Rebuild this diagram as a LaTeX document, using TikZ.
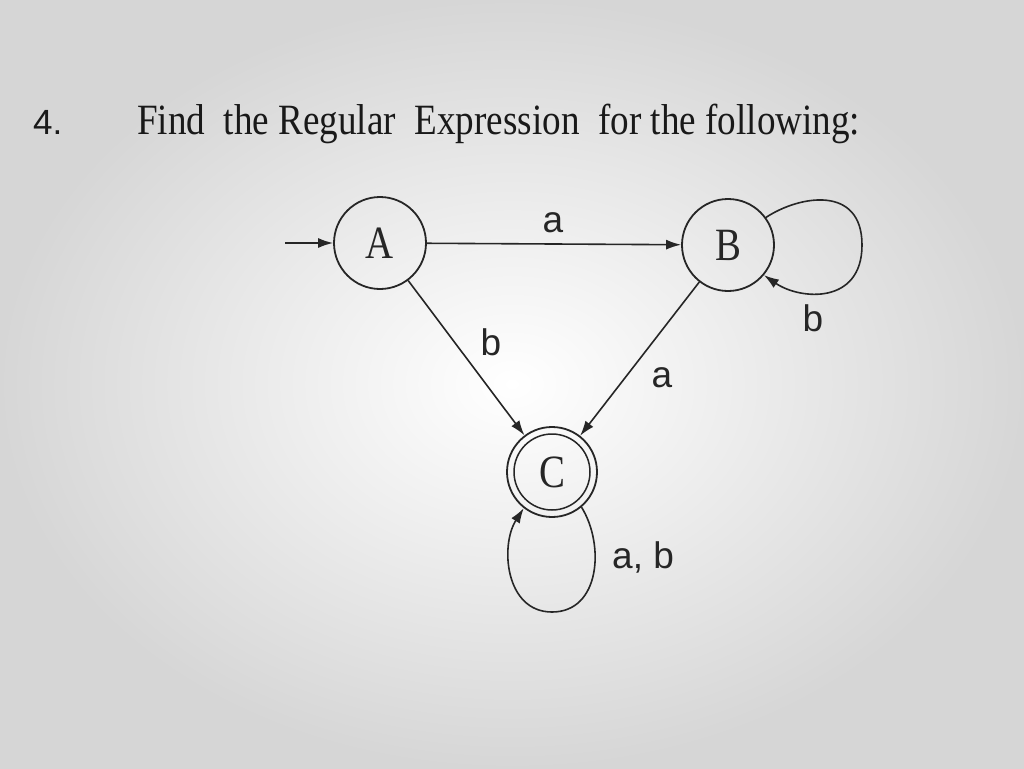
\documentclass[tikz,border=0pt]{standalone}
\usepackage{fontspec}
\setmainfont{Liberation Serif}
\newfontfamily\lsans{Liberation Sans}
\usetikzlibrary{arrows.meta}
\newcommand\statelabel[1]{\scalebox{1.05}[1.25]{\fontsize{37}{40}\selectfont #1}}
\begin{document}
\begin{tikzpicture}[x=1pt,y=-1pt,
 state/.style={circle, draw=black!85, line width=1.8pt, minimum size=92pt, inner sep=0pt, text=black!85},
 edge/.style={draw=black!85, line width=1.6pt, -{Latex[length=15pt,width=10pt]}},
 lbl/.style={inner sep=0pt, font=\lsans\fontsize{37}{40}\selectfont, text=black!85},
]
\useasboundingbox (0,0) rectangle (1024,768);
\shade[inner color=white, outer color=gray!32] (0,0) rectangle (1024,768);

% heading
\node[anchor=base west, inner sep=0pt, font=\lsans\fontsize{35}{40}\selectfont, text=black!90] (num) at (33,134) {4.};
\node[anchor=base west, inner sep=0pt, text=black!90] (title) at (137,134)
  {\resizebox{723pt}{1.2\height}{\fontsize{36}{40}\selectfont Find\ \ the Regular\ \ Expression\ \ for the following:}};

% states
\node[state] (A) at (380,243) {\statelabel{A}};
\node[state] (B) at (728,245) {\statelabel{B}};
\node[state, minimum size=90pt] (C) at (552,472) {\statelabel{C}};
\draw[draw=black!85, line width=1.5pt] (C.center) circle[radius=38];

% transitions
\coordinate (start) at (285,243);
\draw[edge] (start) -- (A);
\draw[edge] (A) -- (B);
\draw[edge] (A) -- (C);
\draw[edge] (B) -- (C);
\draw[edge] (B.36) .. controls (800,195) and (862,185) .. (862,245)
   .. controls (862,305) and (800,300) .. (B.-40);
\draw[edge] (C.-50) .. controls (605,545) and (600,612) .. (552,612)
   .. controls (505,612) and (500,545) .. (C.-128);

% labels
\node[lbl] (lab) at (553,223) {a};
\node[lbl] (lac) at (491,342) {b};
\node[lbl] (lbc) at (662,378) {a};
\node[lbl] (lbb) at (813,318) {b};
\node[lbl, anchor=base west] (lcc) at (612,568) {a, b};
\end{tikzpicture}
\end{document}
